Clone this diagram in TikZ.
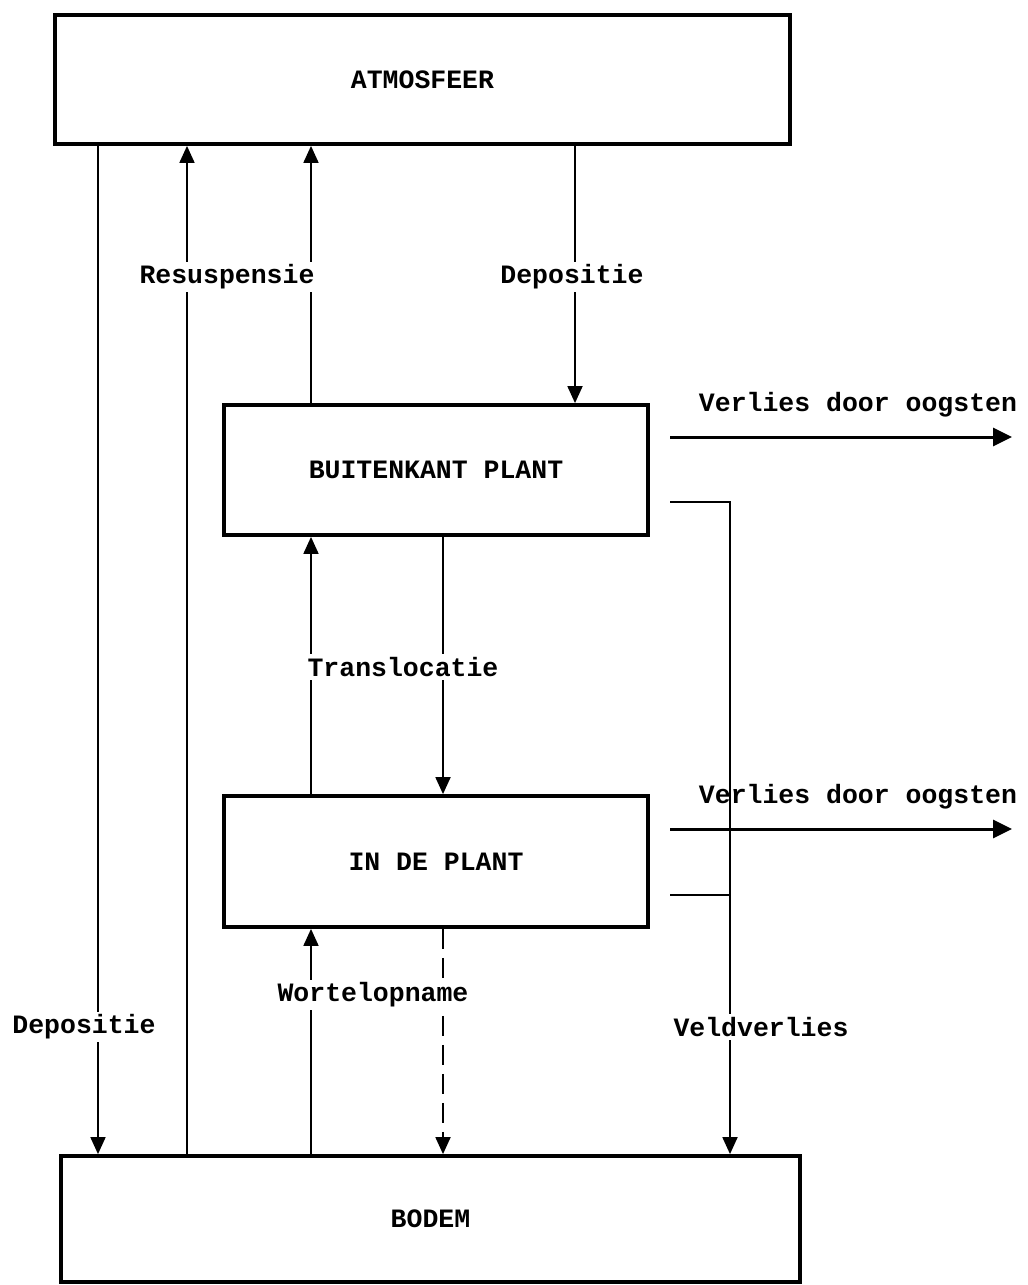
\documentclass[tikz,border=0pt]{standalone}
\usepackage{fontspec}
\newfontfamily\monofont{Liberation Mono}
\usetikzlibrary{arrows.meta}
\tikzset{
  box/.style={draw, line width=3.8pt, minimum width=#1, inner sep=0pt, font=\monofont\bfseries\fontsize{26.5}{30}\selectfont},
  flow/.style={line width=1.8pt, -{Triangle[length=17pt,width=15pt]}},
  plainline/.style={line width=1.8pt},
  harvest/.style={line width=3pt, -{Triangle[length=19pt,width=18pt]}},
  lbl/.style={fill=white, inner sep=3pt, font=\monofont\bfseries\fontsize{26.5}{30}\selectfont},
}
\begin{document}
\begin{tikzpicture}[x=1pt,y=-1pt]
\useasboundingbox (0,0) rectangle (1028,1285);
% boxes
\node[box=735pt, minimum height=129pt] (atm) at (422.5,79.5) {ATMOSFEER};
\node[box=424pt, minimum height=130pt] (bui) at (436,470) {BUITENKANT PLANT};
\node[box=424pt, minimum height=131pt] (inp) at (436,861.5) {IN DE PLANT};
\node[box=739pt, minimum height=126pt] (bod) at (430.5,1219) {BODEM};
% x positions
\coordinate (xa) at (98,0);
\coordinate (xb) at (187,0);
\coordinate (xc) at (311,0);
\coordinate (xd) at (443,0);
\coordinate (xe) at (575,0);
\coordinate (xf) at (730,0);
% vertical flows
\draw[flow] (xa |- atm.south) -- (xa |- bod.north);
\draw[flow] (xb |- bod.north) -- (xb |- atm.south);
\draw[flow] (xc |- bui.north) -- (xc |- atm.south);
\draw[flow] (xe |- atm.south) -- (xe |- bui.north);
\draw[flow] (xc |- inp.north) -- (xc |- bui.south);
\draw[flow] (xd |- bui.south) -- (xd |- inp.north);
\draw[flow] (xc |- bod.north) -- (xc |- inp.south);
\draw[flow, dash pattern=on 20pt off 9pt] (xd |- inp.south) -- (xd |- bod.north);
% harvest losses
\coordinate (h1s) at (670,437);
\coordinate (h1e) at (1012,437);
\coordinate (h2s) at (670,829);
\coordinate (h2e) at (1012,829);
\draw[harvest] (h1s) -- (h1e);
\draw[harvest] (h2s) -- (h2e);
% field losses
\coordinate (v1) at (670,502);
\coordinate (v2) at (670,895);
\draw[flow] (v1) -- (xf |- v1) -- (xf |- bod.north);
\draw[plainline, line width=2.6pt] (v2) -- (xf |- v2);
% labels
\node[lbl] (lres) at (227,277) {Resuspensie};
\node[lbl] (ldep1) at (572,277) {Depositie};
\node[lbl, fill=none] (lh1) at (858,405) {Verlies door oogsten};
\node[lbl] (ltr) at (403,667) {Translocatie};
\node[lbl, fill=none] (lh2) at (858,797) {Verlies door oogsten};
\node[lbl] (lwo) at (373,995) {Wortelopname};
\node[lbl] (ldep2) at (84,1027) {Depositie};
\node[lbl] (lveld) at (761,1027) {Veldverlies};
\end{tikzpicture}
\end{document}
